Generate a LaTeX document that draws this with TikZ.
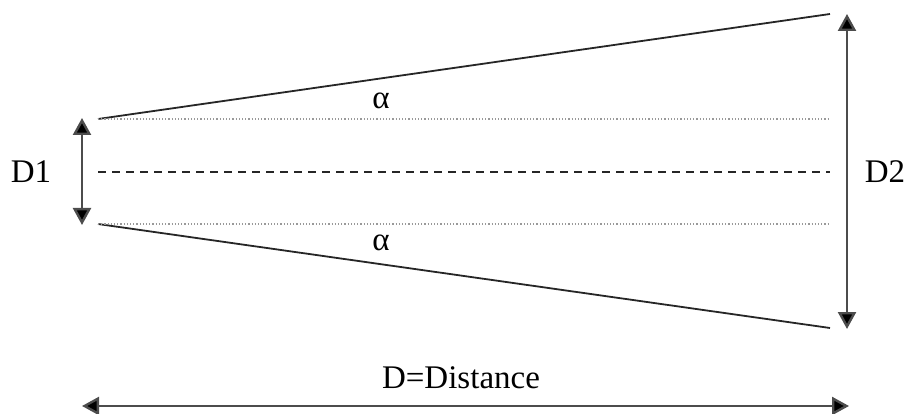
\documentclass[tikz,border=0pt]{standalone}
\usepackage{fontspec}
\setmainfont{Liberation Serif}
\usetikzlibrary{arrows.meta}
\begin{document}
\begin{tikzpicture}[x=1pt,y=-1pt,
  edgeline/.style={line width=1.8pt,black!85},
  dimarrow/.style={line width=2.4pt,black!70,{Triangle[length=17pt,width=18pt,fill=black]}-{Triangle[length=17pt,width=18pt,fill=black]}},
  guide/.style={line width=1.2pt,black!40,dotted},
  axis/.style={line width=1.6pt,black!85,dash pattern=on 8pt off 6pt},
  lbl/.style={inner sep=0pt,font=\fontsize{33}{40}\selectfont}]
\useasboundingbox (0,0) rectangle (908,414);
\coordinate (tl) at (98,119);
\coordinate (tr) at (830,14);
\coordinate (bl) at (98,224);
\coordinate (br) at (830,328);
\coordinate (gtr) at (830,119);
\coordinate (gbr) at (830,224);
\coordinate (cl) at (98,172);
\coordinate (cr) at (830,172);
\draw[edgeline] (tl) -- (tr);
\draw[edgeline] (bl) -- (br);
\draw[guide] (tl) -- (gtr);
\draw[guide] (bl) -- (gbr);
\draw[axis] (cl) -- (cr);
\coordinate (d1t) at (82,118);
\coordinate (d1b) at (82,225);
\draw[dimarrow] (d1t) -- (d1b);
\coordinate (d2t) at (847,14);
\coordinate (d2b) at (847,329);
\draw[dimarrow] (d2t) -- (d2b);
\coordinate (dl) at (82,406);
\coordinate (dr) at (849,406);
\draw[dimarrow] (dl) -- (dr);
\node[lbl] (D1) at (31,172) {D1};
\node[lbl] (D2) at (885,172) {D2};
\node[lbl] (dist) at (461,378) {D=Distance};
\node[lbl] (a1) at (381,101) {α};
\node[lbl] (a2) at (381,243) {α};
\end{tikzpicture}
\end{document}
